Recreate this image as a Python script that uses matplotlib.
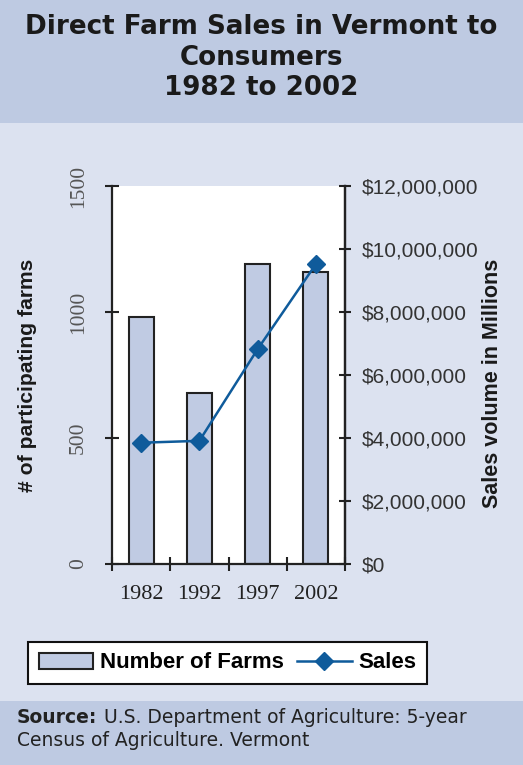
import numpy as np
import matplotlib.pyplot as plt
from matplotlib.patches import Rectangle
from matplotlib.lines import Line2D
from matplotlib.ticker import FuncFormatter

years = ['1982', '1992', '1997', '2002']
farms = [980, 678, 1190, 1159]
sales = [3850000, 3910000, 6820000, 9520000]

band = '#BECAE2'
panel = '#DCE2F0'
bar_fill = '#C0CBE3'
line_col = '#0F5B9B'

W, H = 523, 765
fig = plt.figure(figsize=(W / 100, H / 100), dpi=100)
fig.patch.set_facecolor(panel)

def fy(px):
    return 1 - px / H

# header and footer bands
fig.patches.append(Rectangle((0, fy(123)), 1, 123 / H, transform=fig.transFigure,
                             facecolor=band, edgecolor='none', zorder=0))
fig.patches.append(Rectangle((0, 0), 1, 64 / H, transform=fig.transFigure,
                             facecolor=band, edgecolor='none', zorder=0))

title_lines = ['Direct Farm Sales in Vermont to', 'Consumers', '1982 to 2002']
for line, base in zip(title_lines, [34, 65, 95]):
    fig.text(0.5, fy(base), line, ha='center', va='baseline', fontsize=18.8,
             fontweight='bold', family='DejaVu Sans', color='#1a1a1a')

ax = fig.add_axes([112 / W, fy(564), 233 / W, 378 / H])
ax.set_facecolor('white')
x = np.arange(len(years))
ax.bar(x, farms, width=0.43, color=bar_fill, edgecolor='#222222', linewidth=1.5, zorder=2)
ax.set_xlim(-0.5, 3.5)
ax.set_ylim(0, 1500)
ax.set_yticks([0, 500, 1000, 1500])
ax.set_xticks([-0.5, 0.5, 1.5, 2.5, 3.5])
ax.set_xticklabels([])
ax.set_xticks(x, minor=True)
ax.set_xticklabels(years, minor=True, family='Liberation Serif', fontsize=16, color='#222222')
ax.tick_params(axis='x', which='minor', length=0, pad=15)
ax.tick_params(axis='x', which='major', direction='inout', length=9.4, width=1.5, color='#222222')
ax.tick_params(axis='y', direction='inout', length=9.4, width=1.5, color='#222222', pad=12.5)
for t in ax.get_yticklabels():
    t.set_rotation(90)
    t.set_va('center')
    t.set_family('Liberation Serif')
    t.set_fontsize(15.5)
    t.set_color('#555555')
for s in ['left', 'right', 'bottom']:
    ax.spines[s].set_linewidth(1.6)
    ax.spines[s].set_color('#222222')
ax.spines['top'].set_visible(False)

ax2 = ax.twinx()
ax2.plot(x, sales, color=line_col, linewidth=1.8, marker='D', markersize=9, zorder=3)
ax2.set_ylim(0, 12000000)
ax2.set_yticks(np.arange(0, 12000001, 2000000))
ax2.yaxis.set_major_formatter(FuncFormatter(lambda v, p: '${:,.0f}'.format(v)))
ax2.tick_params(axis='y', direction='inout', length=8.6, width=1.5, color='#222222', pad=8)
for t in ax2.get_yticklabels():
    t.set_family('Liberation Sans')
    t.set_fontsize(15)
    t.set_color('#333333')
for s in ['top', 'left', 'bottom']:
    ax2.spines[s].set_visible(False)
ax2.spines['right'].set_linewidth(1.6)
ax2.spines['right'].set_color('#222222')

# axis titles
fig.text(28 / W, fy(375), '# of participating farms', rotation=90, ha='center', va='center',
         family='Liberation Sans', fontweight='bold', fontsize=15.2, color='#1a1a1a')
fig.text(492 / W, fy(383), 'Sales volume in Millions', rotation=90, ha='center', va='center',
         family='Liberation Sans', fontweight='bold', fontsize=15.5, color='#1a1a1a')

handles = [Rectangle((0, 0), 1, 1, facecolor=bar_fill, edgecolor='#222222', linewidth=1.5),
           Line2D([], [], color=line_col, linewidth=1.8, marker='D', markersize=9)]
leg = fig.legend(handles, ['Number of Farms', 'Sales'], loc='center',
                 bbox_to_anchor=(227.5 / W, fy(663)), ncol=2, frameon=True,
                 fancybox=False, edgecolor='#111111', facecolor='white', framealpha=1,
                 handlelength=2.45, handletextpad=0.3, columnspacing=0.6, borderpad=0.48,
                 prop={'family': 'Liberation Sans', 'weight': 'bold', 'size': 16})
leg.get_frame().set_linewidth(1.5)

# source note
src = fig.text(17 / W, fy(723), 'Source:', fontsize=13.5, fontweight='bold',
               family='DejaVu Sans', color='#222222', va='baseline')
renderer = fig.canvas.get_renderer()
x_end = src.get_window_extent(renderer).x1
fig.text((x_end + 7) / W, fy(723), 'U.S. Department of Agriculture: 5-year',
         fontsize=13.5, family='DejaVu Sans', color='#222222', va='baseline')
fig.text(17 / W, fy(746), 'Census of Agriculture. Vermont',
         fontsize=13.5, family='DejaVu Sans', color='#222222', va='baseline')

fig.savefig('out.png', dpi=100, facecolor=fig.get_facecolor())
